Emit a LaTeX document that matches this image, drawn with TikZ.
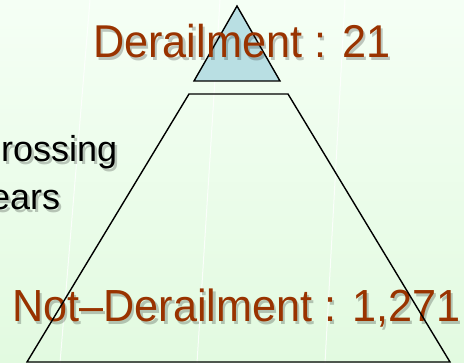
\documentclass[tikz,border=0pt]{standalone}
\usepackage{fontspec}
\setmainfont{Liberation Sans}
\definecolor{bgtop}{RGB}{245,255,245}
\definecolor{bgbot}{RGB}{226,250,224}
\definecolor{labelbrown}{RGB}{153,51,0}
\definecolor{tipfill}{RGB}{185,223,227}
\begin{document}
\begin{tikzpicture}[x=1pt,y=-1pt,
  shape line/.style={draw=black,line width=1.4pt,line join=miter},
  streak/.style={draw=white,line width=1pt,opacity=0.8},
  bigtext/.style={inner sep=0pt,anchor=base west,text=labelbrown},
  sidetext/.style={inner sep=0pt,anchor=base west,text=black},
  shadow/.style={inner sep=0pt,anchor=base west,text=black,opacity=0.22}]
% page and background
\useasboundingbox (0,0) rectangle (464,363);
\clip (0,0) rectangle (464,363);
\shade[top color=bgtop,bottom color=bgbot] (0,0) rectangle (464,363);
% faint streaks of the backdrop
\draw[streak] (90,0) -- (60,363);
\draw[streak] (220,0) -- (197,363);
\draw[streak] (345,0) -- (325,363);
% pyramid tip
\draw[shape line,fill=tipfill] (237,6) -- (280,81) -- (194,81) -- cycle;
% drop shadows of the texts
\node[shadow,font=\fontsize{36}{36}\selectfont] (side1s) at (3.5,165) {rossing};
\node[shadow,font=\fontsize{36}{36}\selectfont] (side2s) at (-7.5,213) {ears};
\node[shadow,font=\fontsize{46}{46}\selectfont,xscale=0.94] (toplabels) at (95.5,61) {Derailment : 21};
\node[shadow,font=\fontsize{45}{45}\selectfont,xscale=0.96] (botlabels) at (14.5,325) {Not–Derailment : 1,271};
% side text, cut by the left edge
\node[sidetext,font=\fontsize{36}{36}\selectfont] (side1) at (1,162) {rossing};
\node[sidetext,font=\fontsize{36}{36}\selectfont] (side2) at (-10,210) {ears};
% top label
\node[bigtext,font=\fontsize{46}{46}\selectfont,xscale=0.94] (toplabel) at (93,58) {Derailment : 21};
% bottom label, with the body outline over it
\node[bigtext,font=\fontsize{45}{45}\selectfont,xscale=0.96] (botlabel) at (12,322) {Not–Derailment : 1,271};
\draw[shape line] (189,94) -- (288,94) -- (450,362) -- (27,362) -- cycle;
\end{tikzpicture}
\end{document}
